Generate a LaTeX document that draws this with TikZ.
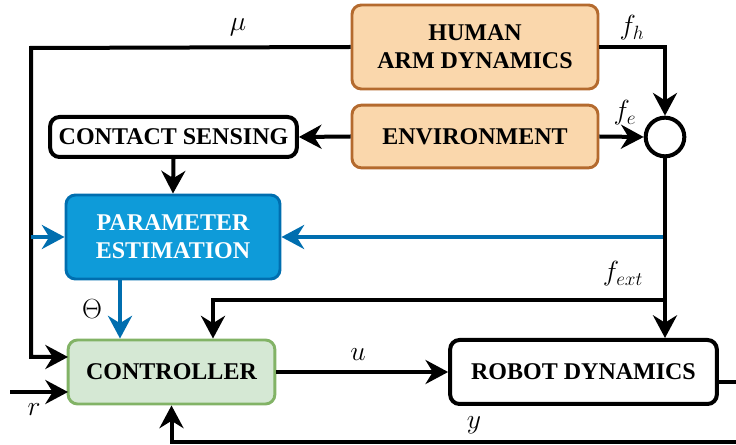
\documentclass[tikz,border=0pt]{standalone}
\usepackage{fontspec}
\setmainfont{Liberation Serif}
\usetikzlibrary{arrows.meta, positioning, calc}
\definecolor{corange}{HTML}{FAD7AC}
\definecolor{corangeline}{HTML}{B46A2E}
\definecolor{cblue}{HTML}{0E9BD9}
\definecolor{cblueline}{HTML}{006EAF}
\definecolor{cgreen}{HTML}{D5E8D4}
\definecolor{cgreenline}{HTML}{82B366}
\tikzset{
  every picture/.style={line width=3pt},
  block/.style={draw=#1, rounded corners=7pt, align=center, inner sep=2pt,
    font=\fontsize{18}{21}\selectfont\bfseries},
  block/.default=black,
  sumnode/.style={circle, draw, fill=white, minimum size=29pt, inner sep=0pt},
  arrow/.style={-{Stealth[length=17pt, width=18pt, inset=5.5pt]}, draw=black},
  barrow/.style={arrow, draw=cblueline, fill=cblueline},
  lbl/.style={font=\fontsize{20.74}{24}\selectfont, inner sep=0pt},
}
\begin{document}
\begin{tikzpicture}[x=0.75pt, y=-0.75pt]
  \clip (0,0) rectangle (736,445);
  % blocks
  \node[block=corangeline, fill=corange, line width=2.2pt, minimum width=184.5pt, minimum height=63pt] (human) at (475,47) {HUMAN\\ARM DYNAMICS};
  \node[block=corangeline, fill=corange, line width=2.2pt, minimum width=184.5pt, minimum height=47pt] (env) at (475,136.5) {ENVIRONMENT};
  \node[block, fill=white, minimum width=185pt, minimum height=30pt] (contact) at (173.5,137) {CONTACT SENSING};
  \node[block=cblueline, fill=cblue, text=white, line width=2.2pt, minimum width=160.5pt, minimum height=63pt] (param) at (173,237) {PARAMETER\\ESTIMATION};
  \node[block=cgreenline, fill=cgreen, line width=2.2pt, minimum width=155pt, minimum height=48pt] (ctrl) at (171.5,372) {CONTROLLER};
  \node[block, fill=white, minimum width=200pt, minimum height=48pt] (robot) at (583.5,372) {ROBOT DYNAMICS};
  \node[sumnode] (sum) at (665,137) {};
  % helper points
  \coordinate (lft) at (31,48);
  \coordinate (muin) at (68,357);
  \coordinate (rsrc) at (10,392);
  \coordinate (rin) at (68,392);
  \coordinate (th) at (120,300);
  \coordinate (fb) at (213,300);
  \coordinate (yout) at (717,382);
  \coordinate (yfar) at (760,442);
  % connectors
  \draw[arrow] (human.east) -| (sum.north);
  \draw[arrow] (env.east) -- (sum.west);
  \draw[arrow] (env.west) -- (contact.east);
  \draw[arrow] (contact.south) -- (param.north);
  \draw[arrow] (human.west) -- (lft) -- (lft |- muin) -- (muin);
  \draw[barrow] (lft |- param.west) -- (param.west);
  \draw[barrow] (sum |- param.east) -- (param.east);
  \draw[barrow] (param.south -| th) -- (ctrl.north -| th);
  \draw[arrow] (sum.south) -- (sum |- robot.north);
  \draw[arrow] (sum |- fb) -- (fb) -- (fb |- ctrl.north);
  \draw[arrow] (rsrc) -- (rin);
  \draw[arrow] (ctrl.east) -- (robot.west);
  \draw[arrow] (yout) -- (yout -| yfar) -- (yfar) -- (yfar -| ctrl.south) -- (ctrl.south);
  % labels
  \node[lbl] (lmu) at (238,27) {$\mu$};
  \node[lbl] (lfh) at (632,28) {$f_h$};
  \node[lbl] (lfe) at (625,113) {$f_e$};
  \node[lbl] (lfext) at (623,274) {$f_{ext}$};
  \node[lbl] (ltheta) at (92,309) {$\Theta$};
  \node[lbl] (lu) at (358,355) {$u$};
  \node[lbl] (lr) at (34,410) {$r$};
  \node[lbl] (ly) at (474,425) {$y$};
\end{tikzpicture}
\end{document}
